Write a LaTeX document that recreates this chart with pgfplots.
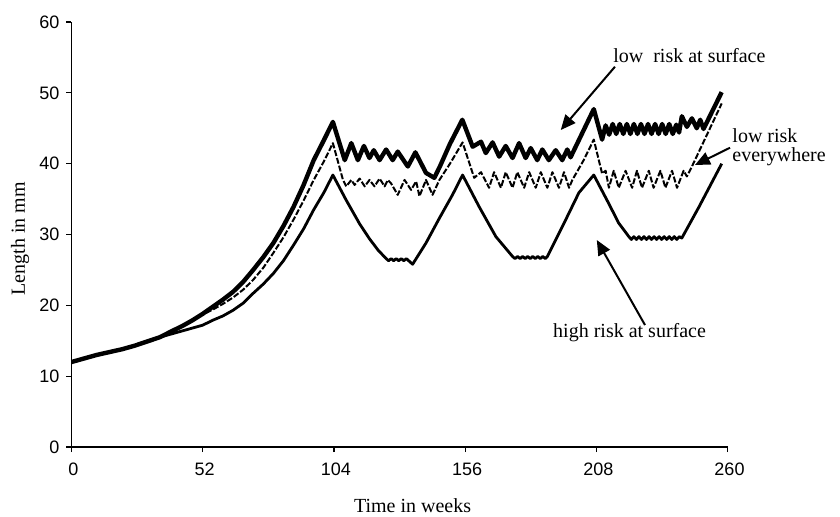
\documentclass[border=0pt]{standalone}
\usepackage{fontspec}
\setmainfont{Liberation Serif}
\newfontfamily\arial{Liberation Sans}
\usepackage{pgfplots}
\pgfplotsset{compat=1.18}
\usetikzlibrary{arrows.meta}

% low risk at surface (thick line)
\pgfplotstableread{
w len
0 12.0
5 12.5
10 13.0
15 13.4
20 13.8
25 14.3
30 14.9
35 15.5
40 16.4
44 17.1
48 17.9
52 18.8
56 19.8
60 20.8
64 21.9
68 23.3
72 25.0
76 26.8
80 28.8
84 31.2
88 33.9
92 37.0
96 40.5
100 43.3
103.6 45.9
108.3 40.5
110.9 42.9
113.5 40.5
115.9 42.5
118.1 40.8
119.8 41.9
122.1 40.5
124.7 42.0
127.3 40.5
129.3 41.7
133.3 39.6
136.3 41.6
140.5 38.7
143.8 38.0
146 39.6
150 42.8
154.9 46.2
159.0 42.4
162.3 43.1
164.2 41.5
166.9 43.0
169.5 41.0
172.1 42.5
174.8 40.8
177.4 42.9
180.0 40.8
182.0 42.2
184.6 40.5
186.6 42.0
189.2 40.5
191.9 41.9
194.5 40.5
196.5 42.0
197.8 40.9
202 44.0
207.0 47.7
210.3 43.4
211.7 45.4
213.1 44.1
214.5 45.6
215.9 44.2
217.3 45.6
218.7 44.2
220.1 45.6
221.5 44.2
222.9 45.6
224.3 44.2
225.7 45.6
227.1 44.2
228.5 45.6
229.9 44.2
231.3 45.6
232.7 44.2
234.1 45.6
235.5 44.2
236.9 45.6
238.3 44.2
239.7 45.5
240.8 44.4
241.9 46.7
243.9 45.2
245.9 46.4
247.8 45.0
249.2 46.2
250.5 44.9
257.7 50.1
}\lowsurface

% low risk everywhere (dashed line)
\pgfplotstableread{
w len
0 12.0
5 12.5
10 13.0
15 13.4
20 13.8
25 14.3
30 14.9
35 15.5
40 16.4
44 17.1
48 17.9
52 18.7
56 19.4
60 20.2
64 21.1
68 22.2
72 23.6
76 25.3
80 27.4
84 29.6
88 32.1
92 34.8
96 37.7
100 40.3
103.6 42.9
107.6 37.7
108.9 36.8
110.9 37.7
112.2 37.0
114.2 37.9
116.2 36.8
118.1 37.7
120.1 36.8
122.1 37.9
124.1 36.8
125.4 37.7
126.7 37.2
129.3 35.6
132.0 37.7
134.6 36.3
136.6 37.5
137.9 35.4
140.5 37.7
143.1 35.6
145.8 37.7
150 40.0
155 43.0
159.6 38.0
162.3 38.8
165.5 36.6
167.5 38.8
170.2 36.6
172.1 38.8
174.8 36.6
176.7 38.8
179.4 36.6
181.4 38.8
184.0 36.6
186.0 38.8
188.6 36.6
190.6 38.8
193.2 36.6
195.2 38.8
197.2 36.6
198.5 37.7
203 40.5
207 43.4
210.3 38.6
211.7 39.0
213.0 36.6
214.9 39.0
216.9 36.6
219.6 39.0
222.2 36.6
224.1 39.0
226.1 36.6
228.8 39.0
230.7 36.6
233.4 39.0
235.4 36.6
238.0 39.0
240.0 36.6
242.6 39.0
243.9 38.2
245.9 39.6
257.7 48.5
}\loweverywhere

% high risk at surface (solid line)
\pgfplotstableread{
w len
0 12.0
5 12.5
10 13.0
15 13.4
20 13.8
25 14.3
30 14.9
35 15.5
40 16.0
44 16.4
48 16.8
52 17.2
56 17.9
60 18.5
64 19.3
68 20.3
72 21.7
76 23.0
80 24.5
84 26.3
88 28.5
92 30.8
96 33.5
100 35.9
103.6 38.4
108.8 34.9
111.5 33.2
114.2 31.5
118.1 29.4
121.5 27.8
124.7 26.6
125.7 26.3
126.7 26.6
127.7 26.3
128.7 26.6
129.7 26.3
130.7 26.6
131.7 26.3
132.7 26.6
135.2 25.8
140.5 28.8
145.8 32.3
151.0 35.6
155.0 38.4
161.6 33.9
168.2 29.7
174.8 26.9
175.8 26.6
176.8 26.9
177.8 26.6
178.8 26.9
179.8 26.6
180.8 26.9
181.8 26.6
182.8 26.9
183.8 26.6
184.8 26.9
185.8 26.6
186.8 26.9
187.8 26.6
188.6 26.9
195.9 32.1
201.1 35.9
207.0 38.4
212.9 34.4
216.9 31.6
220.9 29.7
221.9 29.3
222.9 29.7
223.9 29.3
224.9 29.7
225.9 29.3
226.9 29.7
227.9 29.3
228.9 29.7
229.9 29.3
230.9 29.7
231.9 29.3
232.9 29.7
233.9 29.3
234.9 29.7
235.9 29.3
236.9 29.7
237.9 29.3
238.9 29.7
239.9 29.3
240.9 29.7
241.9 29.5
248.7 33.9
257.7 40.0
}\highsurface

\begin{document}
\begin{tikzpicture}
\begin{axis}[
  at={(0,0)}, anchor=south west,
  width=328pt, height=212.5pt, scale only axis,
  xmin=0, xmax=260, ymin=0, ymax=60,
  axis lines*=left,
  axis line style={line width=0.7pt},
  xtick={0,52,104,156,208,260},
  ytick={0,10,...,60},
  tick align=outside,
  major tick length=2.5pt,
  tick style={black, line width=0.6pt},
  /pgf/number format/assume math mode=true,
  ticklabel style={font=\arial\fontsize{9}{9}\selectfont},
  xticklabel style={yshift=-2pt, xshift=1pt},
  xlabel={Time in weeks},
  ylabel={Length in mm},
  label style={font=\fontsize{10}{12}\selectfont},
  xlabel style={at={(axis description cs:0.52,-0.1388)}, anchor=center},
  ylabel style={at={(axis description cs:-0.0785,0.49)}, anchor=center},
  clip=false,
]
\addplot[black, line width=1.0pt, dash pattern=on 3pt off 1pt, line join=round] table[x=w, y=len] {\loweverywhere};
\addplot[black, line width=1.4pt, line join=round] table[x=w, y=len] {\highsurface};
\addplot[black, line width=2.2pt, line join=round] table[x=w, y=len] {\lowsurface};

\node[font=\fontsize{10}{12}\selectfont, anchor=base] at (axis cs:244.9,54.35) {low\ \ risk at surface};
\draw[line width=1pt, -{Triangle[length=7.5pt,width=6.5pt]}] (axis cs:215.4,53.69) -- (axis cs:193.9,44.75);

\node[font=\fontsize{10}{12}\selectfont, anchor=base west, inner sep=0pt] at (axis cs:261.8,42.92) {low risk};
\node[font=\fontsize{10}{12}\selectfont, anchor=base west, inner sep=0pt] at (axis cs:261.8,40.24) {everywhere};
\draw[line width=1pt, -{Triangle[length=7.5pt,width=6.5pt]}] (axis cs:261.0,42.25) -- (axis cs:247.1,39.81);

\node[font=\fontsize{10}{12}\selectfont, anchor=base] at (axis cs:221.2,15.39) {high risk at surface};
\draw[line width=1pt, -{Triangle[length=7.5pt,width=6.5pt]}] (axis cs:227.3,17.22) -- (axis cs:208.2,29.22);
\end{axis}
\pgfresetboundingbox
\useasboundingbox (-35.75pt,-34.5pt) rectangle (384.25pt,223.5pt);
\end{tikzpicture}
\end{document}
